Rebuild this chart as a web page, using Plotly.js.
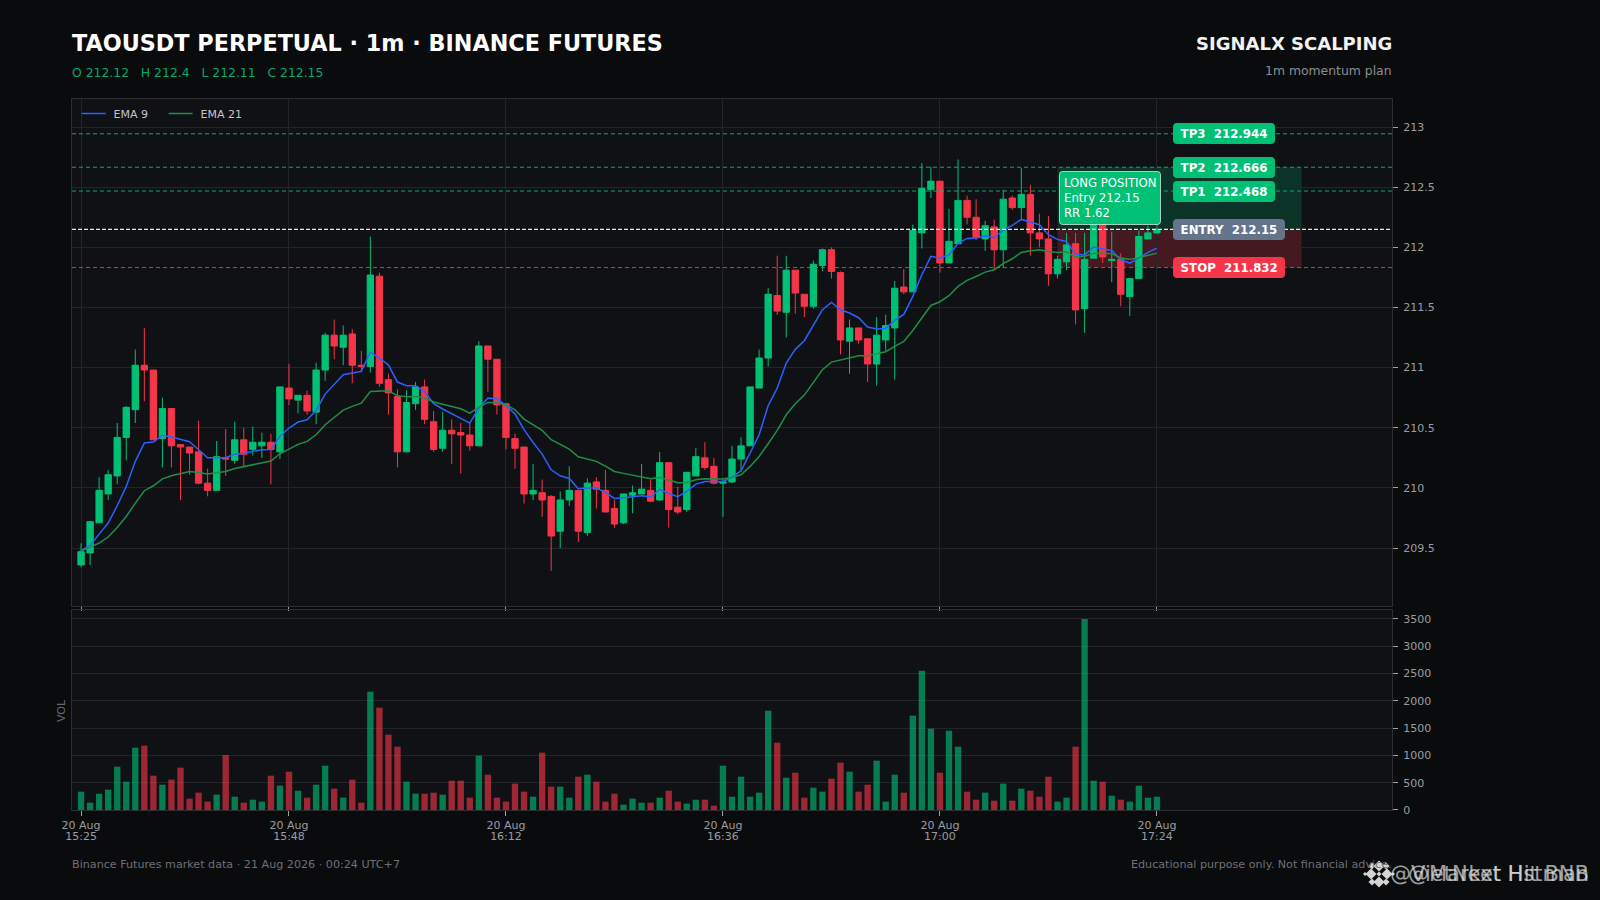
<!DOCTYPE html>
<html>
<head>
<meta charset="utf-8">
<script src="https://cdn.plot.ly/plotly-3.0.1.min.js"></script>
<style>html,body{margin:0;padding:0;background:#0a0b0d;}#chart{width:1600px;height:900px;}</style>
</head>
<body>
<div id="chart"></div>
<script>
const TIMES = ["15:25","15:26","15:27","15:28","15:29","15:30","15:31","15:32","15:33","15:34","15:35","15:36","15:37","15:38","15:39","15:40","15:41","15:42","15:43","15:44","15:45","15:46","15:47","15:48","15:49","15:50","15:51","15:52","15:53","15:54","15:55","15:56","15:57","15:58","15:59","16:00","16:01","16:02","16:03","16:04","16:05","16:06","16:07","16:08","16:09","16:10","16:11","16:12","16:13","16:14","16:15","16:16","16:17","16:18","16:19","16:20","16:21","16:22","16:23","16:24","16:25","16:26","16:27","16:28","16:29","16:30","16:31","16:32","16:33","16:34","16:35","16:36","16:37","16:38","16:39","16:40","16:41","16:42","16:43","16:44","16:45","16:46","16:47","16:48","16:49","16:50","16:51","16:52","16:53","16:54","16:55","16:56","16:57","16:58","16:59","17:00","17:01","17:02","17:03","17:04","17:05","17:06","17:07","17:08","17:09","17:10","17:11","17:12","17:13","17:14","17:15","17:16","17:17","17:18","17:19","17:20","17:21","17:22","17:23","17:24"];
const OPEN = [209.36,209.46,209.71,209.95,210.10,210.42,210.65,211.02,210.98,210.41,
210.66,210.36,210.34,210.30,210.04,209.98,210.25,210.23,210.40,210.32,
210.35,210.38,210.30,210.83,210.73,210.77,210.63,210.98,211.27,211.17,
211.28,211.02,211.01,211.76,210.90,210.76,210.30,210.70,210.84,210.55,
210.33,210.48,210.46,210.44,210.35,211.18,211.07,210.70,210.41,210.34,
209.95,209.96,209.93,209.64,209.90,209.98,209.63,210.05,209.98,209.83,
209.71,209.94,209.95,209.98,209.90,210.21,209.84,209.82,210.10,210.25,
210.18,210.04,210.05,210.24,210.35,210.83,211.08,211.60,211.46,211.81,
211.61,211.51,211.85,211.98,211.79,211.22,211.33,211.24,211.03,211.23,
211.33,211.67,211.63,212.12,212.48,212.55,211.87,212.03,212.39,212.25,
212.07,212.17,211.98,212.41,212.33,212.44,212.12,212.07,211.78,211.88,
212.03,211.49,211.91,212.25,211.89,211.90,211.59,211.74,212.07,212.12];
const HIGH = [209.54,209.72,210.09,210.15,210.54,210.68,211.15,211.33,210.98,210.75,
210.66,210.36,210.34,210.56,210.16,210.39,210.49,210.55,210.50,210.51,
210.46,210.45,210.84,211.03,210.77,210.81,211.04,211.29,211.40,211.35,
211.32,211.14,212.09,211.79,210.95,210.82,210.81,210.88,210.90,210.64,
210.63,210.57,210.54,210.54,211.22,211.18,211.07,210.70,210.45,210.34,
210.20,210.07,209.94,209.97,210.18,209.98,210.08,210.09,210.15,209.90,
209.95,210.02,210.20,210.07,210.30,210.21,210.01,210.13,210.33,210.38,
210.25,210.08,210.35,210.42,210.84,211.15,211.66,211.93,211.93,211.81,
211.61,211.89,211.99,212.00,211.80,211.40,211.33,211.24,211.42,211.44,
211.72,211.82,212.19,212.70,212.67,212.55,212.32,212.73,212.43,212.40,
212.22,212.23,212.48,212.43,212.66,212.52,212.28,212.26,211.93,212.12,
212.12,212.12,212.40,212.28,212.13,211.95,211.74,212.14,212.18,212.40];
const LOW = [209.34,209.36,209.71,209.90,210.03,210.23,210.54,210.72,210.40,210.17,
210.17,209.90,210.11,210.03,209.93,209.98,210.10,210.20,210.18,210.27,
210.25,210.03,210.24,210.69,210.62,210.61,210.53,210.89,211.07,211.02,
210.87,210.96,210.96,210.84,210.61,210.17,210.30,210.65,210.53,210.30,
210.30,210.20,210.12,210.31,210.35,210.80,210.61,210.32,210.16,209.87,
209.90,209.76,209.31,209.50,209.85,209.55,209.60,209.83,209.80,209.67,
209.70,209.79,209.95,209.88,209.89,209.67,209.78,209.80,210.10,210.15,
210.03,209.76,210.04,210.14,210.35,210.83,211.01,211.44,211.25,211.45,
211.42,211.49,211.80,211.74,211.11,210.95,211.20,210.88,210.85,211.14,
210.90,211.61,211.63,211.99,212.41,211.79,211.87,212.03,212.19,212.06,
211.97,211.82,211.83,212.31,212.23,211.93,212.00,211.68,211.74,211.81,
211.36,211.29,211.91,211.87,211.71,211.51,211.43,211.74,212.07,212.11];
const CLOSE = [209.47,209.72,209.98,210.11,210.42,210.67,211.02,210.98,210.40,210.66,
210.35,210.34,210.29,210.04,209.98,210.26,210.24,210.40,210.28,210.38,
210.38,210.32,210.84,210.74,210.77,210.64,210.98,211.27,211.18,211.27,
211.02,211.01,211.77,210.87,210.79,210.30,210.71,210.84,210.57,210.32,
210.48,210.45,210.44,210.35,211.18,211.07,210.69,210.42,210.33,209.95,
209.98,209.90,209.60,209.90,209.98,209.64,210.04,209.99,209.80,209.70,
209.95,209.96,209.99,209.89,210.21,209.82,209.80,210.13,210.26,210.17,
210.04,210.05,210.24,210.35,210.84,211.08,211.61,211.47,211.81,211.62,
211.51,211.86,211.98,211.80,211.23,211.33,211.23,211.03,211.27,211.35,
211.66,211.63,212.14,212.49,212.55,211.87,212.05,212.39,212.25,212.08,
212.18,211.98,212.40,212.33,212.44,212.12,212.07,211.78,211.90,212.02,
211.48,211.90,212.25,211.92,211.90,211.61,211.74,212.09,212.12,212.15];
const EMA9 = [209.478,209.522,209.616,209.708,209.852,210.013,210.221,210.373,210.381,210.437,
210.423,210.406,210.384,210.318,210.251,210.251,210.251,210.281,210.287,210.304,
210.318,210.320,210.428,210.498,210.548,210.567,210.644,210.780,210.861,210.941,
210.955,210.969,211.129,211.080,211.021,210.880,210.850,210.850,210.802,210.700,
210.656,210.617,210.581,210.539,210.664,210.747,210.741,210.686,210.614,210.484,
210.378,210.281,210.151,210.101,210.079,209.993,209.999,209.999,209.963,209.913,
209.918,209.927,209.935,209.927,209.988,209.955,209.927,209.971,210.032,210.054,
210.054,210.054,210.088,210.143,210.290,210.442,210.683,210.830,211.038,211.152,
211.224,211.357,211.481,211.542,211.481,211.454,211.415,211.337,211.321,211.326,
211.393,211.442,211.592,211.772,211.925,211.911,211.938,212.033,212.074,212.077,
212.094,212.080,212.143,212.182,212.232,212.210,212.188,212.105,212.066,212.049,
211.944,211.936,212.002,211.986,211.974,211.897,211.869,211.911,211.958,211.994];
const EMA21 = [209.478,209.506,209.542,209.592,209.672,209.763,209.874,209.977,210.018,210.076,
210.101,210.121,210.137,210.129,210.115,210.126,210.137,210.162,210.176,210.193,
210.209,210.223,210.284,210.323,210.362,210.387,210.442,210.525,210.586,210.647,
210.678,210.705,210.802,210.808,210.808,210.766,210.758,210.761,210.747,210.714,
210.694,210.678,210.658,210.622,210.672,210.711,210.708,210.692,210.650,210.572,
210.525,210.478,210.401,210.359,210.323,210.259,210.240,210.221,210.182,210.137,
210.121,210.107,210.096,210.076,210.088,210.068,210.043,210.046,210.068,210.076,
210.076,210.074,210.088,210.110,210.179,210.262,210.367,210.478,210.608,210.700,
210.772,210.877,210.982,211.046,211.063,211.085,211.099,211.099,211.113,211.132,
211.176,211.218,211.309,211.412,211.517,211.548,211.598,211.675,211.725,211.758,
211.794,211.814,211.864,211.905,211.958,211.972,211.980,211.966,211.958,211.961,
211.919,211.925,211.950,211.950,211.947,211.911,211.900,211.916,211.933,211.952];
const VOLUME = [336,134,299,373,794,519,1142,1179,629,464,
556,776,208,318,153,281,1008,244,134,189,
153,629,446,702,354,226,464,812,391,226,
556,134,2168,1875,1380,1160,519,299,299,318,
281,537,537,226,996,647,226,153,483,336,
244,1051,428,428,226,611,647,519,153,299,
98,208,134,134,226,354,153,116,189,189,
79,812,244,611,244,318,1820,1234,592,684,
226,409,336,574,867,702,336,464,904,153,
647,318,1729,2553,1490,684,1454,1160,336,189,
318,171,483,171,391,354,244,611,153,226,
1160,3500,537,519,263,189,153,446,226,244];
const TICK_TIMES = ["15:25","15:48","16:12","16:36","17:00","17:24"];
const TICK_LABELS = ["20 Aug<br>15:25","20 Aug<br>15:48","20 Aug<br>16:12","20 Aug<br>16:36","20 Aug<br>17:00","20 Aug<br>17:24"];
const LEVEL_NAMES = ["TP3","TP2","TP1","ENTRY","STOP"];
const LEVEL_VALUES = [212.944,212.666,212.468,212.15,211.832];
const LEVEL_COLORS = ["#00c076","#00c076","#00c076","#64748b","#f6354a"];
const LINE_COLORS = ["rgba(0,192,118,0.9)","rgba(0,192,118,0.9)","rgba(0,192,118,0.9)","rgba(255,255,255,0.9)","rgba(246,53,74,0.9)"];

const DAY = "2026-08-20 ";
const d = t => DAY + t + ":00";
const X = TIMES.map(d);
const GREEN = "#00c076", RED = "#f6354a";
const L = 72, R = 1392, T = 99, B = 810;
const px = v => (v - L) / (R - L);
const py = v => (B - v) / (B - T);

const xStart = d("15:24"), xEnd = d("17:50");
const labelX = DAY + "17:25:45";
const zoneA = d("17:13"), zoneB = d("17:40");

const traces = [
  {type:"candlestick", x:X, open:OPEN, high:HIGH, low:LOW, close:CLOSE, xaxis:"x", yaxis:"y", showlegend:false, whiskerwidth:0,
   increasing:{line:{color:GREEN,width:1},fillcolor:GREEN}, decreasing:{line:{color:RED,width:1},fillcolor:RED}, hoverinfo:"skip"},
  {type:"scatter", mode:"lines", name:"EMA 9", x:X, y:EMA9, xaxis:"x", yaxis:"y", line:{color:"#2962ff",width:1.5}},
  {type:"scatter", mode:"lines", name:"EMA 21", x:X, y:EMA21, xaxis:"x", yaxis:"y", line:{color:"#1f8f45",width:1.5}},
  {type:"bar", x:X, y:VOLUME, xaxis:"x2", yaxis:"y2", showlegend:false,
   marker:{color:CLOSE.map((c,i)=> c>=OPEN[i] ? "rgba(0,192,118,0.62)" : "rgba(246,53,74,0.62)"), line:{width:0}}}
];

const shapes = [
  {type:"rect", xref:"x", yref:"y", x0:zoneA, x1:zoneB, y0:212.15, y1:212.666, fillcolor:"rgba(0,192,118,0.2)", line:{width:0}, layer:"below"},
  {type:"rect", xref:"x", yref:"y", x0:zoneA, x1:zoneB, y0:211.832, y1:212.15, fillcolor:"rgba(246,53,74,0.23)", line:{width:0}, layer:"below"}
];
LEVEL_VALUES.forEach((v,i)=>{
  shapes.push({type:"line", xref:"paper", yref:"y", x0:0, x1:1, y0:v, y1:v,
    line:{color:LINE_COLORS[i], width:i===3?1.2:1, dash:i===3?"4px,2px":"4px,3px"}});
});
// Binance-style mark beside the watermark
function diamond(cx,cy,r,color){
  const P = (x,y)=> px(x).toFixed(5)+" "+py(y).toFixed(5);
  return {type:"path", xref:"paper", yref:"paper", layer:"above", fillcolor:color, line:{width:0},
    path:"M"+P(cx,cy-r)+" L"+P(cx+r,cy)+" L"+P(cx,cy+r)+" L"+P(cx-r,cy)+" Z"};
}
[[1379,866,5.5],[1379,882,5.5],[1371,874,5.5],[1387,874,5.5],[1372,866,3.5],[1386,866,3.5],[1372,882,3.5],[1386,882,3.5],
 [1365,874,2],[1393,874,2],[1379,874,2.5]].forEach(a=>shapes.push(diamond(a[0],a[1],a[2],"#d4d4d4")));

const annotations = [];
LEVEL_NAMES.forEach((n,i)=>{
  annotations.push({xref:"x", yref:"y", x:labelX, y:LEVEL_VALUES[i], xanchor:"left", yanchor:"middle", showarrow:false,
    text:"<b>\u00a0"+n+"\u00a0\u00a0"+LEVEL_VALUES[i]+"\u00a0</b>", bgcolor:LEVEL_COLORS[i], borderpad:2.5, bordercolor:LEVEL_COLORS[i], borderwidth:1,
    font:{family:"DejaVu Sans",size:11.8,color:"#ffffff"}});
});
annotations.push({xref:"x", yref:"y", x:DAY+"17:13:12", y:212.635, xanchor:"left", yanchor:"top", showarrow:false, align:"left",
  text:"LONG POSITION<br>Entry 212.15<br>RR 1.62", bgcolor:GREEN, bordercolor:"rgba(255,255,255,0.65)", borderwidth:1, borderpad:4,
  font:{family:"DejaVu Sans",size:11.7,color:"#ffffff"}});
const page = (text,x,y,xanchor,size,color,extra)=>Object.assign({xref:"paper",yref:"paper",
  x:px(xanchor==="left"?x-2:(xanchor==="right"?x+2:x)),y:py(y),xanchor,yanchor:"middle",showarrow:false,text,
  font:{family:"DejaVu Sans",size,color}},extra||{});
annotations.push(page("O 212.12\u00a0\u00a0\u00a0H 212.4\u00a0\u00a0\u00a0L 212.11\u00a0\u00a0\u00a0C 212.15",72,72,"left",12.4,"#00a86b"));
annotations.push(page("<b>SIGNALX SCALPING</b>",1392,44,"right",18,"#f2f2f2"));
annotations.push(page("1m momentum plan",1392,70.5,"right",12.4,"#8a8d93"));
annotations.push(page("Binance Futures market data · 21 Aug 2026 · 00:24 UTC+7",72,864,"left",11.15,"#6d7076"));
annotations.push(page("Educational purpose only. Not financial advice.",1392,864,"right",11.15,"#6d7076"));
annotations.push(page("VOL",61,711,"center",11,"#666a70",{textangle:-90}));
annotations.push(page("@Market Hit BNB",1589,874,"right",21,"rgba(225,225,225,0.7)"));
annotations.push(page("@VietNext Hstman",1589,874,"right",21,"rgba(225,225,225,0.7)"));

const axisBase = {gridcolor:"#23252a", gridwidth:1, showline:true, linecolor:"#2c2e33", linewidth:1, mirror:true, zeroline:false,
  tickfont:{family:"DejaVu Sans",size:11,color:"#9a9da3"}, tickcolor:"#a0a0a0", ticklen:5, ticks:"outside"};

const layout = {
  width:1600, height:900, paper_bgcolor:"#0a0b0d", plot_bgcolor:"#101114",
  margin:{l:L,r:1600-R,t:T,b:900-B,pad:0},
  title:{text:"<b>TAOUSDT PERPETUAL · 1m · BINANCE FUTURES</b>", x:72/1600, xanchor:"left", y:1-43/900, yanchor:"middle",
    font:{family:"DejaVu Sans",size:22.3,color:"#ffffff"}},
  showlegend:true,
  legend:{orientation:"h", x:0.0035, y:1.0, xanchor:"left", yanchor:"top", bgcolor:"rgba(0,0,0,0)", entrywidth:42, entrywidthmode:"pixels",
    font:{family:"DejaVu Sans",size:11,color:"#c4c6cb"}},
  bargap:0.3, boxgap:0.3, boxgroupgap:0,
  xaxis:Object.assign({},axisBase,{type:"date", domain:[0,1], anchor:"y", range:[xStart,xEnd], rangeslider:{visible:false},
    tickmode:"array", tickvals:TICK_TIMES.map(d), ticktext:TICK_LABELS, showticklabels:false, showgrid:true, ticklen:4}),
  xaxis2:Object.assign({},axisBase,{type:"date", domain:[0,1], anchor:"y2", matches:"x", range:[xStart,xEnd], rangeslider:{visible:false},
    tickmode:"array", tickvals:TICK_TIMES.map(d), ticktext:TICK_LABELS, showticklabels:true, showgrid:false}),
  yaxis:Object.assign({},axisBase,{domain:[0.2863,1], anchor:"x", side:"right", range:[209.015,213.233], tickmode:"linear", tick0:209.5, dtick:0.5, ticklabelstandoff:3}),
  yaxis2:Object.assign({},axisBase,{domain:[0,0.2813], anchor:"x2", side:"right", range:[0,3665], tickmode:"linear", tick0:0, dtick:500, ticklabelstandoff:3}),
  shapes, annotations
};
Plotly.newPlot("chart", traces, layout, {displayModeBar:false, staticPlot:true}).then(gd=>{
  const polish = ()=>{
    document.querySelectorAll(".annotation rect").forEach(r=>{r.setAttribute("rx","3");r.setAttribute("ry","3");});
    document.querySelectorAll(".x2tick text tspan.line").forEach(t=>{ if(parseFloat(t.getAttribute("dy"))>0) t.setAttribute("dy","0.95em"); });
    document.querySelectorAll(".legendlines path").forEach(p=>{ p.setAttribute("d","M5,0h24"); });
    document.querySelectorAll(".legendtext").forEach(t=>{ const x=parseFloat(t.getAttribute("x")); if(!isNaN(x)) t.setAttribute("x", x-3); });
  };
  polish();
});
</script>
</body>
</html>
